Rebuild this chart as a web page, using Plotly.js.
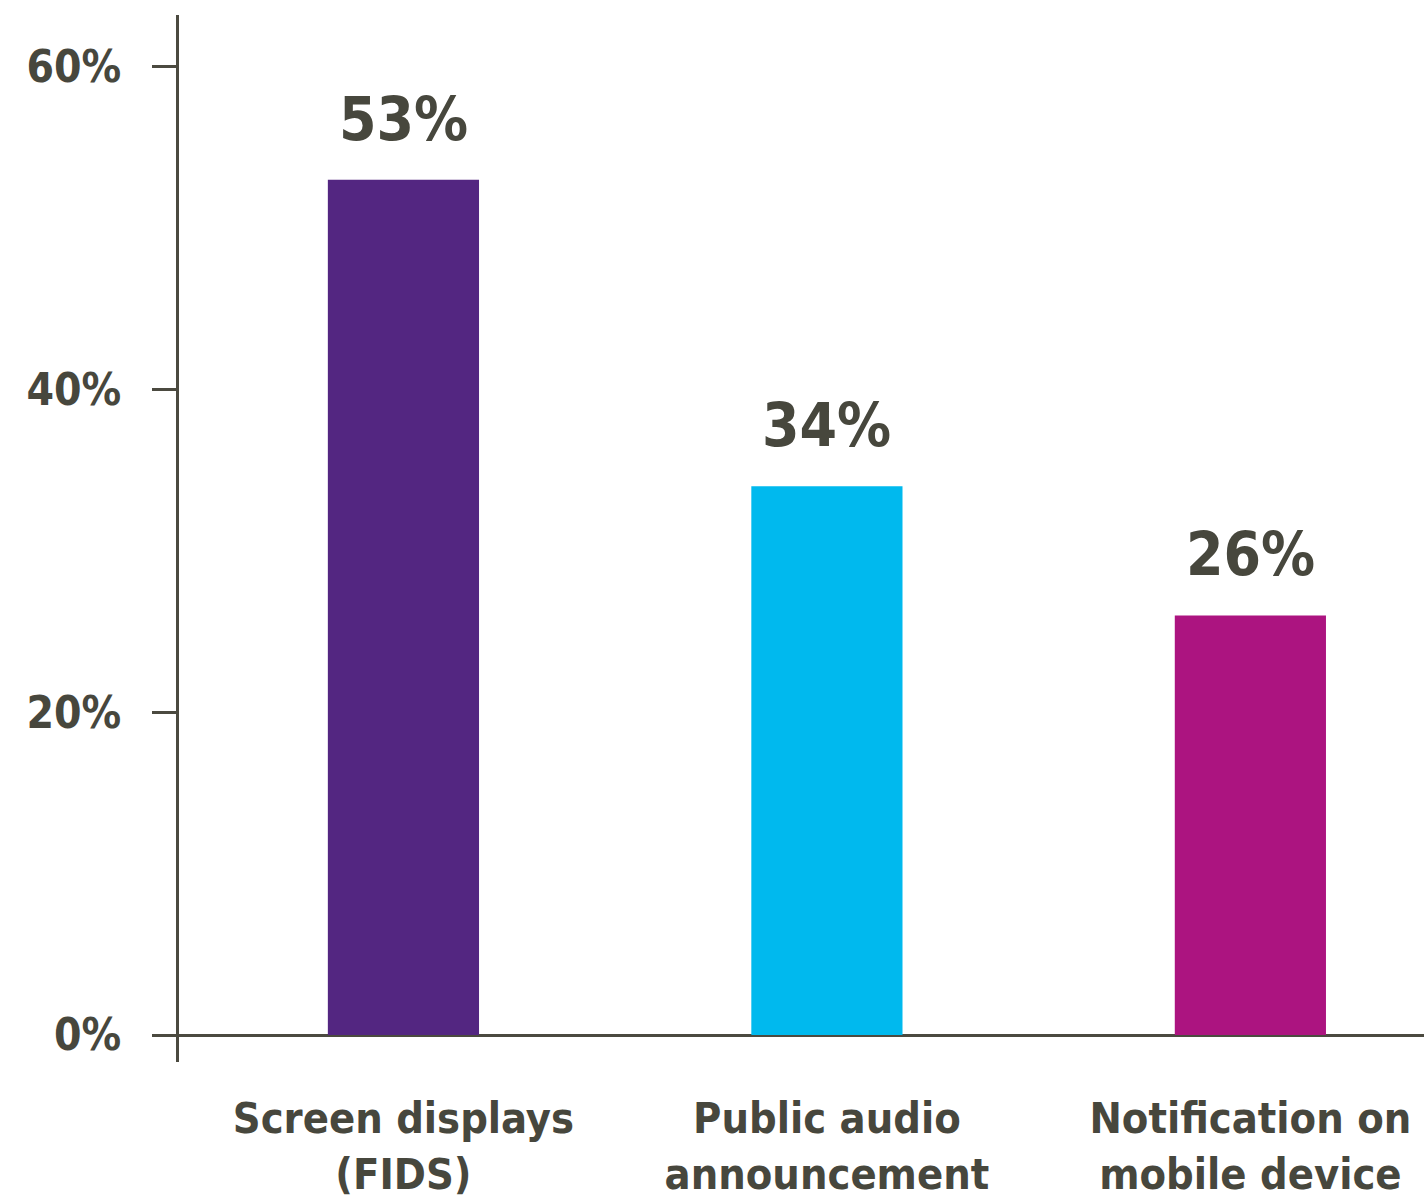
<!DOCTYPE html>
<html>
<head>
<meta charset="utf-8">
<script src="https://cdn.plot.ly/plotly-3.0.1.min.js"></script>
<style>html,body{margin:0;padding:0;background:#fff;}#chart{width:1424px;height:1202px;}</style>
</head>
<body>
<div id="chart"></div>
<script>
const categories = ["Screen displays<br>(FIDS)", "Public audio<br>announcement", "Notification on<br>mobile device"];
const values = [53, 34, 26];
const valueLabels = ["53%", "34%", "26%"];
const barColors = ["#532681", "#00B9EE", "#AC1480"];
const tickValues = [0, 20, 40, 60];
const tickLabels = ["0%", "20%", "40%", "60%"];

const textColor = "#47473d";
const lineColor = "#4b4a40";
const fontFamily = "'DejaVu Sans Condensed', 'DejaVu Sans', sans-serif";

const trace = {
  type: "bar",
  x: categories,
  y: values,
  width: 0.357,
  marker: { color: barColors, line: { width: 0 } },
  hoverinfo: "skip"
};

const annotations = categories.map((c, i) => ({
  x: c, y: values[i], xref: "x", yref: "y",
  text: "<b>" + valueLabels[i] + "</b>",
  showarrow: false, yanchor: "bottom", yshift: 24,
  font: { family: fontFamily, size: 60, color: textColor }
}));

const layout = {
  width: 1424, height: 1202,
  margin: { l: 179, r: 0, t: 15, b: 140, pad: 0 },
  paper_bgcolor: "#ffffff", plot_bgcolor: "#ffffff",
  showlegend: false,
  xaxis: {
    type: "category",
    range: [-0.53, 2.41],
    showline: false, showgrid: false, zeroline: false,
    ticks: "",
    ticklabelstandoff: 27,
    tickfont: { family: fontFamily, size: 43, color: textColor, weight: "bold" },
    fixedrange: true
  },
  yaxis: {
    range: [-1.67, 63.2],
    tickvals: tickValues, ticktext: tickLabels,
    ticks: "outside", ticklen: 24, tickwidth: 3, tickcolor: lineColor,
    ticklabelstandoff: 22,
    tickfont: { family: fontFamily, size: 44, color: textColor, weight: "bold" },
    showline: true, linewidth: 3, linecolor: lineColor,
    showgrid: false,
    zeroline: true, zerolinewidth: 3, zerolinecolor: lineColor,
    fixedrange: true
  },
  annotations: annotations
};

Plotly.newPlot("chart", [trace], layout, { displayModeBar: false, staticPlot: true });
</script>
</body>
</html>
